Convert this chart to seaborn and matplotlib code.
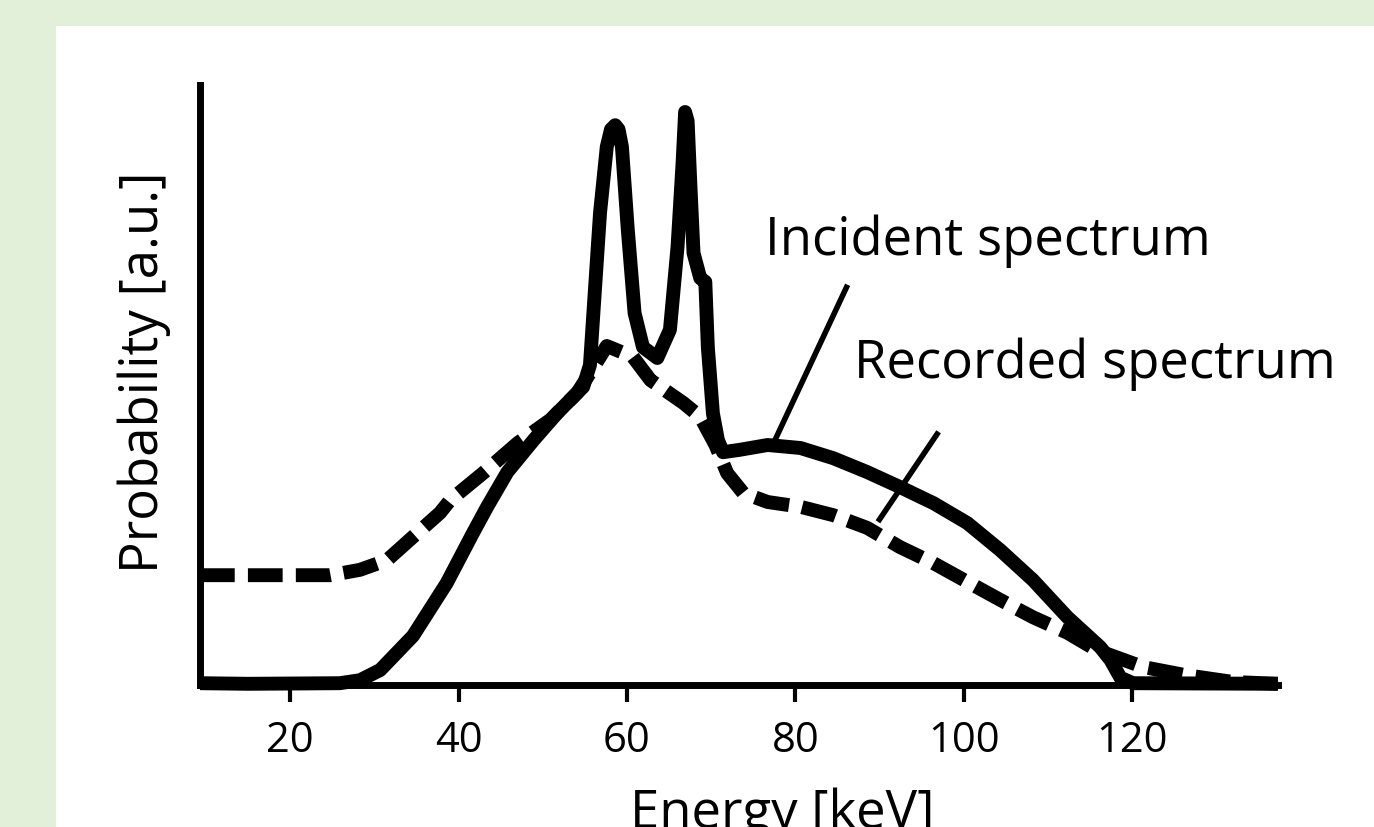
import numpy as np
import pandas as pd
import seaborn as sns
import matplotlib.pyplot as plt
from matplotlib.patches import Rectangle

# Values (energy in keV, probability in a.u., 0-100)
incident_energy = [9.3, 15.0, 25.9, 28.3, 30.7, 34.6, 38.6, 41.7, 43.4, 45.8, 48.9,
                   51.7, 54.8, 55.6, 56.8, 57.6, 58.1, 58.6, 59.0, 59.4, 60.1, 60.9,
                   61.9, 63.6, 65.1, 66.0, 66.6, 66.9, 67.2, 67.5, 67.9, 68.7, 69.3,
                   69.6, 70.2, 70.8, 71.4, 73.4, 76.7, 80.6, 84.5, 88.5, 92.4, 96.4,
                   100.4, 104.3, 108.2, 112.3, 116.2, 117.4, 118.6, 120.1, 137.3]
incident_prob = [0.3, 0.2, 0.3, 0.8, 2.5, 8.2, 17.0, 25.3, 29.7, 35.5, 40.8,
                 45.3, 49.7, 53.3, 78.7, 89.7, 92.6, 93.3, 92.6, 89.7, 75.8, 62.0,
                 56.3, 54.5, 59.2, 73.0, 87.0, 95.5, 94.0, 84.2, 72.0, 67.8, 67.2,
                 56.3, 45.3, 40.8, 38.8, 39.2, 40.0, 39.5, 37.8, 35.5, 33.0, 30.3,
                 27.0, 22.5, 17.5, 11.3, 6.3, 4.2, 1.2, 0.3, 0.2]

recorded_energy = [9.3, 24.8, 28.3, 31.5, 34.6, 37.8, 39.0, 42.9, 47.0, 50.9, 54.1,
                   55.6, 57.6, 60.7, 62.8, 66.7, 68.7, 70.5, 71.9, 73.8, 76.7, 80.6,
                   84.5, 88.5, 92.4, 96.4, 100.4, 104.3, 108.2, 112.3, 115.8, 121.3,
                   126.1, 132.0, 137.3]
recorded_prob = [18.3, 18.3, 19.2, 20.8, 24.7, 28.7, 30.8, 35.3, 40.3, 44.2, 48.7,
                 52.0, 56.5, 54.7, 50.8, 47.0, 44.7, 40.0, 35.3, 32.0, 30.5, 29.7,
                 28.3, 26.2, 23.0, 20.3, 17.2, 14.2, 11.3, 8.7, 5.8, 3.0,
                 1.7, 0.5, 0.2]

x_ticks = [20, 40, 60, 80, 100, 120]

# Label text positions and pointer lines (data coordinates)
incident_text = (76.4, 71.7)
recorded_text = (86.9, 51.2)
incident_pointer = ([86.2, 77.4], [66.7, 40.3])
recorded_pointer = ([97.0, 89.8], [42.2, 27.2])

df = pd.concat([
    pd.DataFrame({"energy": incident_energy, "prob": incident_prob,
                  "spectrum": "Incident spectrum"}),
    pd.DataFrame({"energy": recorded_energy, "prob": recorded_prob,
                  "spectrum": "Recorded spectrum"}),
])

sns.set_theme(style="white")
plt.rcParams['font.family'] = ['Open Sans', 'DejaVu Sans']
plt.rcParams['text.color'] = 'black'
plt.rcParams['axes.labelcolor'] = 'black'
plt.rcParams['xtick.color'] = 'black'

fig = plt.figure(figsize=(13.74, 8.27), dpi=100)
fig.patch.set_facecolor("#e2efd9")
# white panel inside the green frame
fig.add_artist(Rectangle((56 / 1374, 0), 1 - 56 / 1374, 1 - 26 / 827,
                         transform=fig.transFigure, facecolor="white",
                         edgecolor="none", zorder=0))

ax = fig.add_axes([200 / 1374, 142 / 827, 1078 / 1374, 600 / 827])
ax.set_facecolor("none")

sns.lineplot(data=df, x="energy", y="prob", style="spectrum",
             style_order=["Recorded spectrum", "Incident spectrum"],
             dashes={"Incident spectrum": "", "Recorded spectrum": (2.5, 0.95)},
             color="black", linewidth=10, estimator=None, sort=False,
             legend=False, clip_on=False, solid_joinstyle="round",
             solid_capstyle="butt", ax=ax)

ax.set_xlim(9.3, 137.3)
ax.set_ylim(0, 100)
ax.set_xticks(x_ticks)
ax.set_yticks([])
sns.despine(ax=ax)
for side in ["left", "bottom"]:
    ax.spines[side].set_color("black")
    ax.spines[side].set_linewidth(5)
ax.tick_params(axis="x", direction="out", length=12, width=3, color="black",
               labelsize=30, pad=13, bottom=True, labelcolor="black")

# Labels and annotations
ax.text(*incident_text, "Incident spectrum", fontsize=38, va="baseline", ha="left")
ax.text(*recorded_text, "Recorded spectrum", fontsize=38, va="baseline", ha="left")
ax.plot(*incident_pointer, color="black", linewidth=4, solid_capstyle="butt")
ax.plot(*recorded_pointer, color="black", linewidth=4, solid_capstyle="butt")

ax.set_xlabel("Energy [keV]", fontsize=38, va="baseline")
ax.xaxis.set_label_coords(0.54, -0.238)
ax.set_ylabel("Probability [a.u.]", fontsize=38, va="baseline")
ax.yaxis.set_label_coords(-0.039, 0.522)

fig.savefig("out.png", dpi=100, facecolor=fig.get_facecolor())
